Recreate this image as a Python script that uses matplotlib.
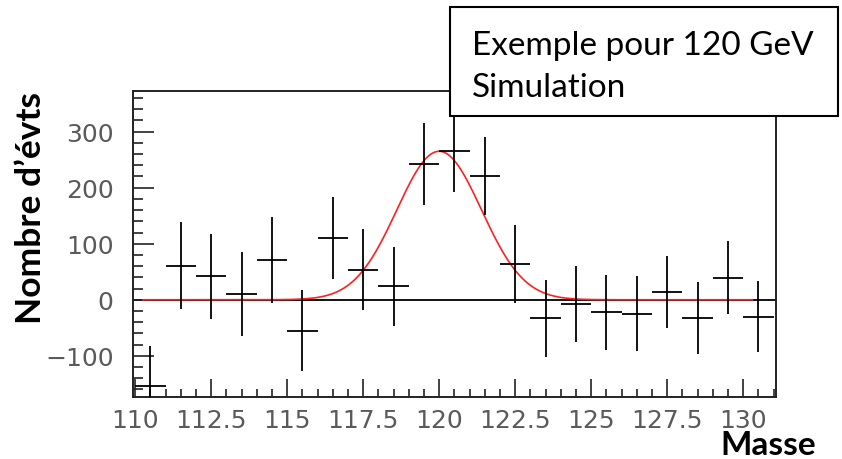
import numpy as np
import matplotlib.pyplot as plt
from matplotlib.patches import Rectangle

# histogram bins (GeV) and contents
masses = [110.5, 111.5, 112.5, 113.5, 114.5, 115.5, 116.5, 117.5, 118.5, 119.5, 120.5,
          121.5, 122.5, 123.5, 124.5, 125.5, 126.5, 127.5, 128.5, 129.5, 130.5]
counts = [-154, 61, 42, 10, 71, -55, 110, 54, 24, 243, 266,
          221, 64, -33, -8, -22, -25, 14, -33, 39, -30]
errors = [72, 77, 76, 75, 77, 73, 73, 72, 71, 73, 74,
          70, 70, 69, 68, 67, 67, 65, 64, 65, 64]

# gaussian fit parameters
fit_amp = 265.0
fit_mean = 120.0
fit_sigma = 1.39
fit_range = (110.25, 130.3)

xtick_vals = [110, 112.5, 115, 117.5, 120, 122.5, 125, 127.5, 130]
xtick_labels = ['110', '112.5', '115', '117.5', '120', '122.5', '125', '127.5', '130']
ytick_vals = [-100, 0, 100, 200, 300]

fig = plt.figure(figsize=(8.42, 4.6), dpi=100)
ax = fig.add_axes([0.158, 0.1354, 0.7633, 0.6639])

ax.axhline(0, color='black', lw=1.3, zorder=1)
ax.errorbar(masses, counts, xerr=0.5, yerr=errors, fmt='none', ecolor='black',
            elinewidth=1.3, capsize=0, zorder=3)

xf = np.linspace(fit_range[0], fit_range[1], 400)
yf = fit_amp * np.exp(-0.5 * ((xf - fit_mean) / fit_sigma) ** 2)
ax.plot(xf, yf, color='#ff2020', lw=1.2, zorder=2)

ax.set_xlim(109.93, 131.07)
ax.set_ylim(-173, 372)

ax.set_xticks(xtick_vals)
ax.set_xticklabels(xtick_labels)
ax.set_xticks(np.arange(110, 131.01, 0.5), minor=True)
ax.set_yticks(ytick_vals)
ax.set_yticklabels(['\u2212100', '0', '100', '200', '300'])
ax.set_yticks(np.arange(-160, 361, 20), minor=True)

ax.tick_params(axis='both', which='both', direction='in', color='#222222', width=1.2,
               top=False, right=False)
ax.tick_params(axis='x', which='major', length=13, pad=8)
ax.tick_params(axis='x', which='minor', length=6)
ax.tick_params(axis='y', which='major', length=15, pad=14)
ax.tick_params(axis='y', which='minor', length=7)
for lab in ax.get_xticklabels() + ax.get_yticklabels():
    lab.set_fontfamily('DejaVu Sans')
    lab.set_fontsize(18)
    lab.set_color('#5a5a5a')

for sp in ax.spines.values():
    sp.set_linewidth(1.4)
    sp.set_color('#222222')

fig.text(0.037, 1 - 208 / 460, 'Nombre d\u2019évts', rotation=90, ha='center', va='center',
         fontsize=25.5, fontweight='bold', family='Lato')
fig.text(768.5 / 842, 1 - 455 / 460, 'Masse', ha='center', va='baseline',
         fontsize=24, fontweight='bold', family='Lato')

# legend box drawn on top of the frame
box = Rectangle((450 / 842, 1 - 117 / 460), 388 / 842, 109 / 460, transform=fig.transFigure,
                facecolor='white', edgecolor='black', lw=1.5, zorder=10)
fig.add_artist(box)
fig.text(472 / 842, 1 - 55 / 460, 'Exemple pour 120 GeV', ha='left', va='baseline',
         fontsize=24, family='Lato', zorder=11)
fig.text(472 / 842, 1 - 97 / 460, 'Simulation', ha='left', va='baseline',
         fontsize=24, family='Lato', zorder=11)

fig.savefig('out.png', dpi=100)
